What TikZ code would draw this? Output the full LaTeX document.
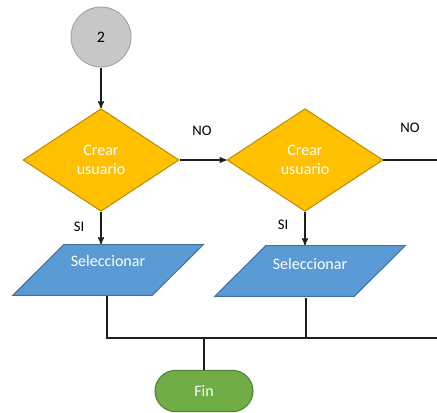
\documentclass[tikz,border=0pt]{standalone}
\usepackage{fontspec}
\setmainfont{Carlito}
\usetikzlibrary{arrows,shapes.geometric,shapes.misc,positioning}
\definecolor{connfill}{RGB}{200,200,200}
\definecolor{connline}{RGB}{165,165,165}
\definecolor{decfill}{RGB}{255,192,0}
\definecolor{decline}{RGB}{188,140,0}
\definecolor{datafill}{RGB}{91,155,213}
\definecolor{dataline}{RGB}{65,113,156}
\definecolor{endfill}{RGB}{112,173,71}
\definecolor{endline}{RGB}{80,126,50}
\definecolor{flowline}{RGB}{30,30,30}

\begin{document}
\begin{tikzpicture}[x=0.75pt,y=-0.75pt,>=stealth',line width=0.9pt,draw=flowline,
  conn node/.style={circle,fill=connfill,draw=connline,line width=0.75pt,minimum size=45pt,inner sep=0pt,font=\fontsize{12}{14}\selectfont},
  decision node/.style={diamond,fill=decfill,draw=decline,line width=0.75pt,minimum width=117pt,minimum height=77pt,inner sep=0pt,align=center,text=white,font=\fontsize{12}{14.5}\selectfont},
  data node/.style={trapezium,trapezium left angle=60,trapezium right angle=120,trapezium stretches=true,minimum width=143pt,minimum height=38pt,inner sep=2pt,fill=datafill,draw=dataline,line width=0.75pt},
  data text/.style={text=white,font=\fontsize{12}{14}\selectfont},
  end node/.style={rounded rectangle,fill=endfill,draw=endline,line width=0.75pt,minimum width=73.5pt,minimum height=31pt,inner sep=0pt,text=white,font=\fontsize{12}{14}\selectfont},
  answer/.style={font=\fontsize{11}{13}\selectfont}]

  \useasboundingbox (0,0) rectangle (437,412);

  \node[conn node] (start) at (101,37) {2};
  \node[decision node] (d1) at (101,160) {Crear\\usuario};
  \node[decision node] (d2) at (305,160) {Crear\\usuario};
  \node[data node,label={[data text,yshift=7pt]center:Seleccionar}] (sel1) at (108,270) {};
  \node[data node,label={[data text,yshift=5pt]center:Seleccionar}] (sel2) at (310,271) {};
  \node[end node] (fin) at (204,391) {Fin};

  \node[answer] (no1) at (202,131) {NO};
  \node[answer] (no2) at (410,128) {NO};
  \node[answer] (si1) at (79,227) {SI};
  \node[answer] (si2) at (283,225) {SI};

  \coordinate (noexit) at (437,160);
  \coordinate (joinexit) at (437,338);
  \coordinate (sel1out) at (107,296);
  \coordinate (sel2out) at (306,298);

  \path[->]
    (start) edge (d1)
    (d1) edge (d2)
    (d1.south) edge (d1.south |- sel1.north)
    (d2.south) edge (d2.south |- sel2.north);

  \draw (d2.east) -- (noexit);
  \draw (sel1out) |- (joinexit);
  \draw (sel2out) -- (sel2out |- joinexit);
  \draw (fin.north) -- (fin.north |- joinexit);
\end{tikzpicture}
\end{document}
